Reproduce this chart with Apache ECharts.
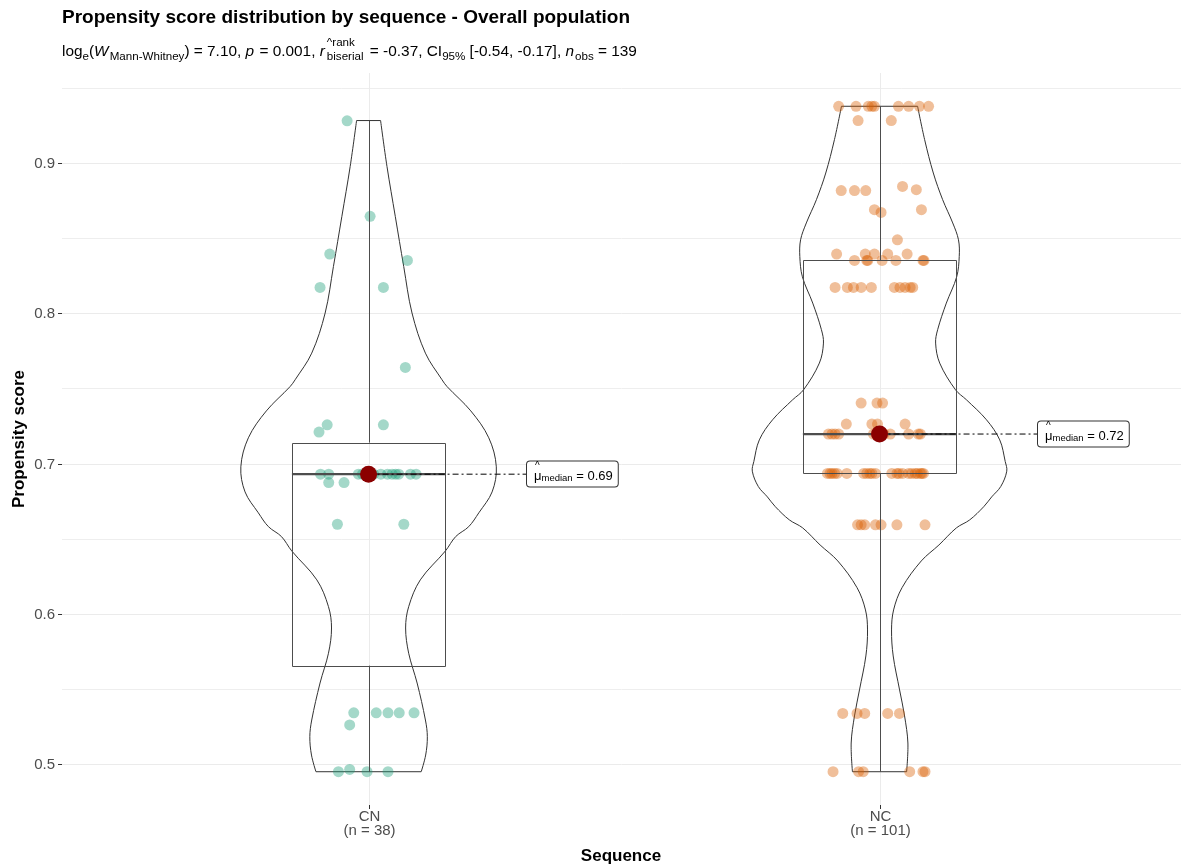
<!DOCTYPE html>
<html>
<head>
<meta charset="utf-8">
<script src="https://cdn.jsdelivr.net/npm/echarts@6/dist/echarts.min.js"></script>
<style>
  html, body { margin: 0; padding: 0; background: #ffffff; }
  #chart { width: 1181px; height: 867px; }
</style>
</head>
<body>
<div id="chart"></div>
<script>
// ---------------- data ----------------
const groups = ['CN', 'NC'];
const groupCounts = ['(n = 38)', '(n = 101)'];

// CN: propensity scores and horizontal jitter (in category units)
const cnScore = [
  0.928, 0.8645, 0.8394, 0.8352, 0.8172, 0.8172, 0.764, 0.7258, 0.7258, 0.721,
  0.693, 0.693, 0.693, 0.693, 0.693, 0.693, 0.693, 0.693, 0.693, 0.693, 0.693, 0.693, 0.693, 0.693,
  0.6874, 0.6874, 0.6597, 0.6597,
  0.5343, 0.5343, 0.5343, 0.5343, 0.5343, 0.5262,
  0.4951, 0.4966, 0.4951, 0.4951
];
const cnJitter = [
  -0.042, 0.003, -0.076, 0.076, -0.095, 0.029, 0.072, -0.081, 0.029, -0.097,
  -0.094, -0.078, -0.020, -0.012, -0.004, 0.004, 0.010, 0.024, 0.037, 0.046, 0.053, 0.059, 0.082, 0.093,
  -0.078, -0.048, -0.061, 0.069,
  -0.029, 0.015, 0.038, 0.060, 0.089, -0.037,
  -0.059, -0.037, -0.003, 0.038
];

// NC: propensity scores and horizontal jitter
const ncScore = [
  0.9377, 0.9377, 0.9377, 0.9377, 0.9377, 0.9377, 0.9377, 0.9377, 0.9377,
  0.9282, 0.9282,
  0.8844, 0.8822, 0.8816, 0.8816, 0.8816,
  0.8689, 0.8689, 0.8671, 0.8489,
  0.8394, 0.8394, 0.8394, 0.8394, 0.8394,
  0.8352, 0.8352, 0.8352, 0.8352, 0.8352, 0.8352, 0.8352,
  0.8172, 0.8172, 0.8172, 0.8172, 0.8172, 0.8172, 0.8172, 0.8172, 0.8172, 0.8172,
  0.7403, 0.7403, 0.7403,
  0.7263, 0.7263, 0.7263, 0.7263,
  0.7197, 0.7197, 0.7197, 0.7197, 0.7197, 0.7197, 0.7197, 0.7197, 0.7197, 0.7197, 0.7197, 0.7197,
  0.6935, 0.6935, 0.6935, 0.6935, 0.6935, 0.6935, 0.6935, 0.6935, 0.6935, 0.6935, 0.6935,
  0.6935, 0.6935, 0.6935, 0.6935, 0.6935, 0.6935, 0.6935, 0.6935, 0.6935, 0.6935, 0.6935,
  0.6593, 0.6593, 0.6593, 0.6593, 0.6593, 0.6593, 0.6593,
  0.5339, 0.5339, 0.5339, 0.5339, 0.5339,
  0.4951, 0.4951, 0.4951, 0.4951, 0.4951, 0.4951
];
const ncJitter = [
  -0.080, -0.046, -0.022, -0.015, -0.010, 0.037, 0.057, 0.078, 0.096,
  -0.042, 0.023,
  0.045, 0.072, -0.075, -0.049, -0.027,
  -0.010, 0.082, 0.003, 0.035,
  -0.084, -0.028, -0.010, 0.016, 0.054,
  -0.049, -0.025, -0.023, 0.005, 0.032, 0.085, 0.087,
  -0.087, -0.063, -0.051, -0.036, -0.016, 0.029, 0.040, 0.050, 0.060, 0.065,
  -0.036, -0.005, 0.006,
  -0.065, -0.015, -0.004, 0.050,
  -0.100, -0.093, -0.087, -0.080, -0.012, -0.003, 0.003, 0.009, 0.021, 0.057, 0.076, 0.080,
  -0.102, -0.097, -0.093, -0.088, -0.083, -0.064, -0.031, -0.025, -0.019, -0.015, -0.008,
  0.024, 0.034, 0.038, 0.045, 0.057, 0.063, 0.070, 0.074, 0.080, 0.083, 0.086,
  -0.043, -0.036, -0.029, -0.008, 0.003, 0.034, 0.089,
  -0.072, -0.044, -0.029, 0.016, 0.039,
  -0.091, -0.041, -0.032, 0.059, 0.085, 0.089
];

// Violin outlines: score levels (top to bottom) and relative density (max = 1)
const cnViolinScore = [
  0.9282, 0.8977, 0.8645, 0.8312, 0.8002, 0.7735, 0.7558, 0.7513, 0.7351, 0.7172,
  0.6979, 0.6812, 0.6673, 0.6581, 0.6515, 0.6420, 0.6227, 0.6049, 0.5907, 0.5739,
  0.5541, 0.5295, 0.5184, 0.5062, 0.4951
];
const cnViolinDensity = [
  0.094, 0.144, 0.209, 0.275, 0.340, 0.445, 0.575, 0.614, 0.800, 0.941,
  1.000, 0.967, 0.863, 0.784, 0.682, 0.602, 0.405, 0.314, 0.290, 0.314,
  0.380, 0.445, 0.460, 0.447, 0.412
];
const ncViolinScore = [
  0.9377, 0.9155, 0.8933, 0.8756, 0.8601, 0.8489, 0.8378, 0.8243, 0.8068, 0.7891,
  0.7802, 0.7669, 0.7491, 0.7425, 0.7292, 0.7158, 0.7014, 0.6950, 0.6848, 0.6779,
  0.6714, 0.6626, 0.6573, 0.6459, 0.6353, 0.6175, 0.6027, 0.5894, 0.5721, 0.5495,
  0.5322, 0.5142, 0.4951
];
const ncViolinDensity = [
  0.298, 0.353, 0.421, 0.494, 0.573, 0.618, 0.624, 0.604, 0.523, 0.455,
  0.439, 0.471, 0.595, 0.680, 0.837, 0.941, 0.984, 0.996, 0.949, 0.878,
  0.816, 0.706, 0.602, 0.465, 0.327, 0.176, 0.110, 0.094, 0.107, 0.157,
  0.196, 0.222, 0.212
];

const yMajorTicks = [0.5, 0.6, 0.7, 0.8, 0.9];
const yMinorTicks = [0.55, 0.65, 0.75, 0.85, 0.95];

const titleText = 'Propensity score distribution by sequence - Overall population';
// subtitle pieces: [text, kind]  n = normal, i = italic, s = subscript, stack = super/sub pair
const subtitleParts = [
  ['log', 'n'], ['e', 's'], ['(', 'n'], ['W', 'i'], ['Mann-Whitney', 's'],
  [') = 7.10, ', 'n'], ['p', 'i'], [' = 0.001, ', 'n'], ['r', 'i'],
  [['^rank', 'biserial'], 'stack'], [' = -0.37, CI', 'n'], ['95%', 's'],
  [' [-0.54, -0.17], ', 'n'], ['n', 'i'], ['obs', 's'], [' = 139', 'n']
];
const xTitle = 'Sequence';
const yTitle = 'Propensity score';

// ---------------- layout & style ----------------
const FONT = '"Liberation Sans", Arial, Helvetica, sans-serif';
const GRID = { left: 62, right: 0, top: 73, bottom: 62 };
const X_MIN = 0.4, X_MAX = 2.59;
const VIOLIN_HALF = 0.25;
const BOX_HALF = 0.15;
const LABEL_OFFSET = 0.31;
const pointColors = ['#1B9E77', '#D95F02'];
const AXIS_TEXT = '#4d4d4d';
const GRID_COLOR = '#ebebeb';
const AXIS_FONT = '15px ' + FONT;

// ---------------- derived statistics ----------------
const scores = [cnScore, ncScore];
const violinScores = [cnViolinScore, ncViolinScore];
const violinDensity = [cnViolinDensity, ncViolinDensity];

function quantile(sorted, p) {
  const h = (sorted.length - 1) * p;
  const lo = Math.floor(h);
  const hi = Math.min(lo + 1, sorted.length - 1);
  return sorted[lo] + (h - lo) * (sorted[hi] - sorted[lo]);
}
const stats = scores.map(arr => {
  const s = arr.slice().sort((a, b) => a - b);
  const q1 = quantile(s, 0.25), med = quantile(s, 0.5), q3 = quantile(s, 0.75);
  const iqr = q3 - q1;
  const inside = s.filter(v => v >= q1 - 1.5 * iqr && v <= q3 + 1.5 * iqr);
  return { q1, med, q3, lo: inside[0], hi: inside[inside.length - 1] };
});
const allScores = cnScore.concat(ncScore);
const dataLo = Math.min(...allScores), dataHi = Math.max(...allScores);
const Y_MIN = dataLo - 0.05 * (dataHi - dataLo);
const Y_MAX = dataHi + 0.05 * (dataHi - dataLo);

const px = v => Math.round(v) + 0.5;

// ---------------- subtitle (measured run of text pieces) ----------------
function buildSubtitle(x0, yMid) {
  const ctx = document.createElement('canvas').getContext('2d');
  const fonts = {
    n: '15.4px ' + FONT,
    i: 'italic 15.4px ' + FONT,
    s: '11.6px ' + FONT
  };
  const els = [];
  let x = x0;
  const put = (t, xx, yy, f) => els.push({
    type: 'text', x: xx, y: yy,
    style: { text: t, font: f, fill: '#000', align: 'left', verticalAlign: 'middle' }
  });
  subtitleParts.forEach(([t, k]) => {
    if (k === 'stack') {
      ctx.font = fonts.s;
      const w = Math.max(ctx.measureText(t[0]).width, ctx.measureText(t[1]).width);
      put(t[0], x + 1, yMid - 9, fonts.s);
      put(t[1], x + 1, yMid + 5, fonts.s);
      x += w + 3;
      return;
    }
    ctx.font = fonts[k];
    put(t, x, k === 's' ? yMid + 5 : yMid, fonts[k]);
    x += ctx.measureText(t).width + (k === 'i' ? 1 : 0);
  });
  return els;
}

// ---------------- chart ----------------
const chart = echarts.init(document.getElementById('chart'), null, { renderer: 'canvas' });

const option = {
  animation: false,
  backgroundColor: '#ffffff',
  grid: GRID,
  xAxis: { type: 'value', min: X_MIN, max: X_MAX, show: false },
  yAxis: { type: 'value', min: Y_MIN, max: Y_MAX, show: false },
  graphic: [
    { type: 'text', x: 62, y: 18,
      style: { text: titleText, font: 'bold 19px ' + FONT, fill: '#000', verticalAlign: 'middle' } },
    { type: 'group', children: buildSubtitle(62, 52) },
    { type: 'text', x: 621, y: 856,
      style: { text: xTitle, font: 'bold 17px ' + FONT, fill: '#000', align: 'center', verticalAlign: 'middle' } },
    { type: 'text', x: 19, y: 439, rotation: Math.PI / 2,
      style: { text: yTitle, font: 'bold 17px ' + FONT, fill: '#000', align: 'center', verticalAlign: 'middle' } }
  ],
  series: [
    // minor horizontal grid lines
    {
      type: 'custom', silent: true, z: 1,
      data: yMinorTicks.map(v => [v]),
      renderItem(params, api) {
        const cs = params.coordSys;
        const y = px(api.coord([X_MIN, api.value(0)])[1]);
        return { type: 'line', shape: { x1: cs.x, y1: y, x2: cs.x + cs.width, y2: y },
                 style: { stroke: '#eeeeee', lineWidth: 1 } };
      }
    },
    // major horizontal grid lines, ticks and labels
    {
      type: 'custom', silent: true, z: 1,
      data: yMajorTicks.map(v => [v]),
      renderItem(params, api) {
        const cs = params.coordSys;
        const v = api.value(0);
        const y = px(api.coord([X_MIN, v])[1]);
        return { type: 'group', children: [
          { type: 'line', shape: { x1: cs.x, y1: y, x2: cs.x + cs.width, y2: y },
            style: { stroke: GRID_COLOR, lineWidth: 1 } },
          { type: 'line', shape: { x1: cs.x - 4, y1: y, x2: cs.x, y2: y },
            style: { stroke: '#333333', lineWidth: 1 } },
          { type: 'text', x: cs.x - 7, y: y,
            style: { text: v.toFixed(1), font: AXIS_FONT, fill: AXIS_TEXT, align: 'right', verticalAlign: 'middle' } }
        ] };
      }
    },
    // category grid lines, ticks and labels
    {
      type: 'custom', silent: true, z: 1,
      data: groups.map((g, i) => [i + 1]),
      renderItem(params, api) {
        const cs = params.coordSys;
        const i = params.dataIndex;
        const x = px(api.coord([api.value(0), Y_MIN])[0]);
        const yb = cs.y + cs.height;
        return { type: 'group', children: [
          { type: 'line', shape: { x1: x, y1: cs.y, x2: x, y2: yb },
            style: { stroke: GRID_COLOR, lineWidth: 1 } },
          { type: 'line', shape: { x1: x, y1: yb, x2: x, y2: yb + 4 },
            style: { stroke: '#333333', lineWidth: 1 } },
          { type: 'text', x: x, y: yb + 5,
            style: { text: groups[i] + '\n' + groupCounts[i], font: AXIS_FONT, lineHeight: 14,
                     fill: AXIS_TEXT, align: 'center', verticalAlign: 'top' } }
        ] };
      }
    },
    // violins
    {
      type: 'custom', silent: true, z: 2,
      data: groups.map((g, i) => [i]),
      renderItem(params, api) {
        const g = api.value(0);
        const cx = g + 1;
        const sc = violinScores[g], dn = violinDensity[g];
        const left = sc.map((s, i) => api.coord([cx - dn[i] * VIOLIN_HALF, s]));
        const right = sc.map((s, i) => api.coord([cx + dn[i] * VIOLIN_HALF, s]));
        const last = sc.length - 1;
        const st = { stroke: '#333333', lineWidth: 1, fill: null };
        return { type: 'group', children: [
          { type: 'polyline', shape: { points: left, smooth: 0.35 }, style: st },
          { type: 'polyline', shape: { points: right, smooth: 0.35 }, style: st },
          { type: 'line', shape: { x1: left[0][0], y1: left[0][1], x2: right[0][0], y2: right[0][1] }, style: st },
          { type: 'line', shape: { x1: left[last][0], y1: left[last][1], x2: right[last][0], y2: right[last][1] }, style: st }
        ] };
      }
    },
    // jittered observations
    {
      type: 'scatter', silent: true, z: 3,
      symbolSize: 11,
      itemStyle: { color: pointColors[0], opacity: 0.4 },
      data: cnScore.map((s, i) => [1 + cnJitter[i], s])
    },
    {
      type: 'scatter', silent: true, z: 3,
      symbolSize: 11,
      itemStyle: { color: pointColors[1], opacity: 0.4 },
      data: ncScore.map((s, i) => [2 + ncJitter[i], s])
    },
    // box plots
    {
      type: 'custom', silent: true, z: 4,
      data: groups.map((g, i) => [i]),
      renderItem(params, api) {
        const g = api.value(0);
        const cx = g + 1;
        const s = stats[g];
        const tl = api.coord([cx - BOX_HALF, s.q3]);
        const br = api.coord([cx + BOX_HALF, s.q1]);
        const top = api.coord([cx, s.hi]);
        const bot = api.coord([cx, s.lo]);
        const mL = api.coord([cx - BOX_HALF, s.med]);
        const mR = api.coord([cx + BOX_HALF, s.med]);
        const xm = px(top[0]);
        const st = { stroke: '#4d4d4d', lineWidth: 1, fill: null };
        return { type: 'group', children: [
          { type: 'line', shape: { x1: xm, y1: top[1], x2: xm, y2: tl[1] }, style: st },
          { type: 'line', shape: { x1: xm, y1: br[1], x2: xm, y2: bot[1] }, style: st },
          { type: 'rect', shape: { x: px(tl[0]), y: px(tl[1]), width: Math.round(br[0] - tl[0]), height: Math.round(br[1] - tl[1]) }, style: st },
          { type: 'line', shape: { x1: mL[0], y1: mL[1], x2: mR[0], y2: mR[1] },
            style: { stroke: '#4d4d4d', lineWidth: 2.2 } }
        ] };
      }
    },
    // medians with labels
    {
      type: 'custom', silent: true, z: 5,
      data: groups.map((g, i) => [i]),
      renderItem(params, api) {
        const g = api.value(0);
        const cx = g + 1;
        const med = stats[g].med;
        const c = api.coord([cx, med]);
        const lab = api.coord([cx + LABEL_OFFSET, med]);
        return { type: 'group', children: [
          { type: 'line', shape: { x1: c[0], y1: c[1], x2: lab[0], y2: c[1] },
            style: { stroke: '#000000', lineWidth: 1, lineDash: [6, 3, 2, 3] } },
          { type: 'circle', shape: { cx: c[0], cy: c[1], r: 8.5 }, style: { fill: '#8B0000' } },
          { type: 'text', x: Math.round(lab[0]), y: Math.round(c[1]),
            style: {
              text: '{hat|^}\n{mu|\u03bc}{sub|median}{eq| = ' + med.toFixed(2) + '}',
              align: 'left', verticalAlign: 'middle',
              backgroundColor: '#ffffff', borderColor: '#333333', borderWidth: 1, borderRadius: 3,
              padding: [1, 5, 3, 7],
              rich: {
                hat: { font: '10px ' + FONT, fill: '#000', lineHeight: 7, padding: [0, 0, 0, 1] },
                mu: { font: '13px ' + FONT, fill: '#000', lineHeight: 14 },
                sub: { font: '9.5px ' + FONT, fill: '#000', lineHeight: 8, verticalAlign: 'bottom' },
                eq: { font: '13px ' + FONT, fill: '#000', lineHeight: 14 }
              }
            } }
        ] };
      }
    }
  ]
};

chart.setOption(option);
</script>
</body>
</html>
